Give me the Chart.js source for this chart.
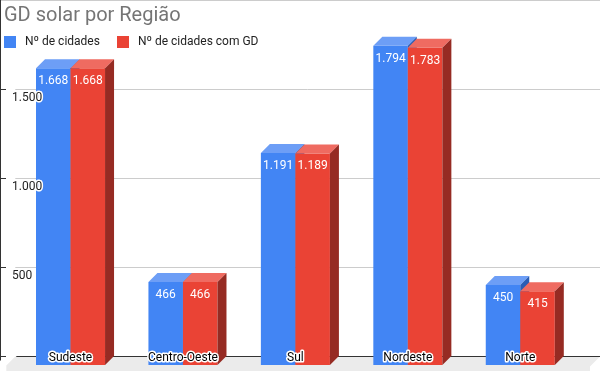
<!DOCTYPE html>
<html>
<head>
<meta charset="utf-8">
<script src="https://cdn.jsdelivr.net/npm/chart.js@4/dist/chart.umd.min.js"></script>
<style>
  html, body { margin: 0; padding: 0; background: #fff; }
  #wrap { width: 600px; height: 371px; position: relative; }
</style>
</head>
<body>
<div id="wrap"><canvas id="c" width="600" height="371"></canvas></div>
<script>
// ---- data ----
const categories = ['Sudeste', 'Centro-Oeste', 'Sul', 'Nordeste', 'Norte'];
const nCidades = [1668, 466, 1191, 1794, 450];
const nCidadesGD = [1668, 466, 1189, 1783, 415];
const seriesNames = ['Nº de cidades', 'Nº de cidades com GD'];
const yTicks = [500, 1000, 1500];
const chartTitle = 'GD solar por Região';

// ---- styles ----
const FRONT = ['#4285f4', '#ea4335'];
const TOP = ['#6d9ef6', '#ef6b61'];
const SIDE = ['#2b5db5', '#962b23'];
const DEPTH = 9;
const FONT = 'Roboto, "Liberation Sans", Arial, sans-serif';

function fmt(v) {
  return String(v).replace(/\B(?=(\d{3})+(?!\d))/g, '.');
}
function swatch(color) {
  const c = document.createElement('canvas');
  c.width = 12; c.height = 12;
  const g = c.getContext('2d');
  g.fillStyle = color; g.fillRect(0, 0, 12, 12);
  return c;
}
const swatches = FRONT.map(swatch);

function haloText(ctx, text, x, y, color) {
  ctx.lineJoin = 'round';
  ctx.lineWidth = 3;
  ctx.strokeStyle = '#ffffff';
  ctx.strokeText(text, x, y);
  ctx.fillStyle = color;
  ctx.fillText(text, x, y);
}

const bars3d = {
  id: 'bars3d',
  afterLayout(chart) {
    if (chart.titleBlock) { chart.titleBlock.left = 4; }
    if (chart.legend) { chart.legend.left = -13; }
  },
  beforeDatasetsDraw(chart) {
    const { ctx, chartArea: a, scales: { y } } = chart;
    const W = chart.width, H = chart.height;
    const back0 = Math.round(y.getPixelForValue(0) - DEPTH) + 0.5;
    ctx.save();
    // top border & left border lines
    ctx.strokeStyle = '#cccccc'; ctx.lineWidth = 1;
    ctx.beginPath(); ctx.moveTo(0, 0.5); ctx.lineTo(W, 0.5); ctx.stroke();
    ctx.strokeStyle = '#333333';
    ctx.beginPath(); ctx.moveTo(0.5, 0); ctx.lineTo(0.5, back0 + 4); ctx.stroke();
    // floor
    ctx.fillStyle = '#ebebeb';
    ctx.beginPath();
    ctx.moveTo(a.left + 1, back0);
    ctx.lineTo(W, back0);
    ctx.lineTo(W - DEPTH - 1, back0 + DEPTH + 1);
    ctx.lineTo(W - DEPTH - 1, H);
    ctx.lineTo(a.left - 8, H);
    ctx.lineTo(a.left - 8, back0 + DEPTH);
    ctx.closePath();
    ctx.fill();
    // gridlines on back wall
    yTicks.forEach(v => {
      const py = Math.round(y.getPixelForValue(v) - DEPTH) + 0.5;
      ctx.strokeStyle = '#cccccc';
      ctx.beginPath(); ctx.moveTo(a.left + 1, py); ctx.lineTo(W, py); ctx.stroke();
      ctx.strokeStyle = '#333333';
      ctx.beginPath(); ctx.moveTo(0, py); ctx.lineTo(6, py); ctx.stroke();
    });
    // zero line
    ctx.strokeStyle = '#333333';
    ctx.beginPath(); ctx.moveTo(0, back0); ctx.lineTo(6, back0); ctx.stroke();
    ctx.beginPath(); ctx.moveTo(a.left + 2, back0); ctx.lineTo(W, back0); ctx.stroke();
    ctx.restore();
  },
  beforeDatasetDraw() { return false; },
  afterDatasetsDraw(chart) {
    const ctx = chart.ctx;
    ctx.save();
    chart.data.datasets.forEach((ds, i) => {
      const meta = chart.getDatasetMeta(i);
      meta.data.forEach(el => {
        el.draw(ctx);
        const { x, y, base, width } = el.getProps(['x', 'y', 'base', 'width'], true);
        const l = x - width / 2, r = x + width / 2;
        ctx.fillStyle = TOP[i];
        ctx.beginPath();
        ctx.moveTo(l, y); ctx.lineTo(l + DEPTH, y - DEPTH);
        ctx.lineTo(r + DEPTH, y - DEPTH); ctx.lineTo(r, y);
        ctx.closePath(); ctx.fill();
        ctx.fillStyle = SIDE[i];
        ctx.beginPath();
        ctx.moveTo(r, y); ctx.lineTo(r + DEPTH, y - DEPTH);
        ctx.lineTo(r + DEPTH, base - DEPTH); ctx.lineTo(r, base);
        ctx.closePath(); ctx.fill();
      });
    });
    // value labels
    ctx.fillStyle = '#ffffff';
    ctx.font = '12px ' + FONT;
    ctx.textAlign = 'center';
    ctx.textBaseline = 'middle';
    chart.data.datasets.forEach((ds, i) => {
      const meta = chart.getDatasetMeta(i);
      meta.data.forEach((el, j) => {
        const { x, y } = el.getProps(['x', 'y'], true);
        ctx.fillText(fmt(ds.data[j]), x, y + 13);
      });
    });
    ctx.restore();
  },
  afterDraw(chart) {
    const { ctx, chartArea: a, scales: { x, y } } = chart;
    ctx.save();
    ctx.font = '12px ' + FONT;
    ctx.textBaseline = 'middle';
    // category labels (on top of bars, with white halo)
    ctx.textAlign = 'center';
    chart.data.labels.forEach((lab, i) => {
      haloText(ctx, lab, x.getPixelForTick(i), a.bottom - 7.5, '#000000');
    });
    // value axis labels
    ctx.textAlign = 'left';
    yTicks.forEach(v => {
      haloText(ctx, fmt(v), a.left - 2.3, y.getPixelForValue(v), '#222222');
    });
    ctx.restore();
  }
};

new Chart(document.getElementById('c'), {
  type: 'bar',
  data: {
    labels: categories,
    datasets: [
      { label: seriesNames[0], data: nCidades, backgroundColor: FRONT[0], borderWidth: 0 },
      { label: seriesNames[1], data: nCidadesGD, backgroundColor: FRONT[1], borderWidth: 0 }
    ]
  },
  options: {
    responsive: false,
    animation: false,
    devicePixelRatio: 1,
    categoryPercentage: 0.614,
    barPercentage: 1.0,
    layout: { padding: { left: 0, right: 23.5, top: 0, bottom: 0 } },
    plugins: {
      tooltip: { enabled: false },
      title: {
        display: true,
        text: chartTitle,
        align: 'start',
        color: '#757575',
        font: { family: FONT, size: 20, weight: 'normal' },
        padding: { top: 4, bottom: -6 }
      },
      legend: {
        display: true,
        position: 'top',
        align: 'start',
        labels: {
          usePointStyle: true,
          pointStyleWidth: 18,
          padding: 14,
          color: '#222222',
          font: { family: FONT, size: 12 },
          generateLabels(chart) {
            const items = Chart.defaults.plugins.legend.labels.generateLabels(chart);
            items.forEach(it => { it.pointStyle = swatches[it.datasetIndex]; });
            return items;
          }
        }
      }
    },
    scales: {
      x: {
        grid: { display: false, drawTicks: false },
        border: { display: false },
        afterFit(scale) { scale.height = 6; },
        ticks: { display: false }
      },
      y: {
        min: 0,
        max: 1725,
        grid: { display: false, drawTicks: false },
        border: { display: false },
        afterFit(scale) { scale.width = 14.3; },
        ticks: { display: false, stepSize: 500 }
      }
    }
  },
  plugins: [bars3d]
});
</script>
</body>
</html>
